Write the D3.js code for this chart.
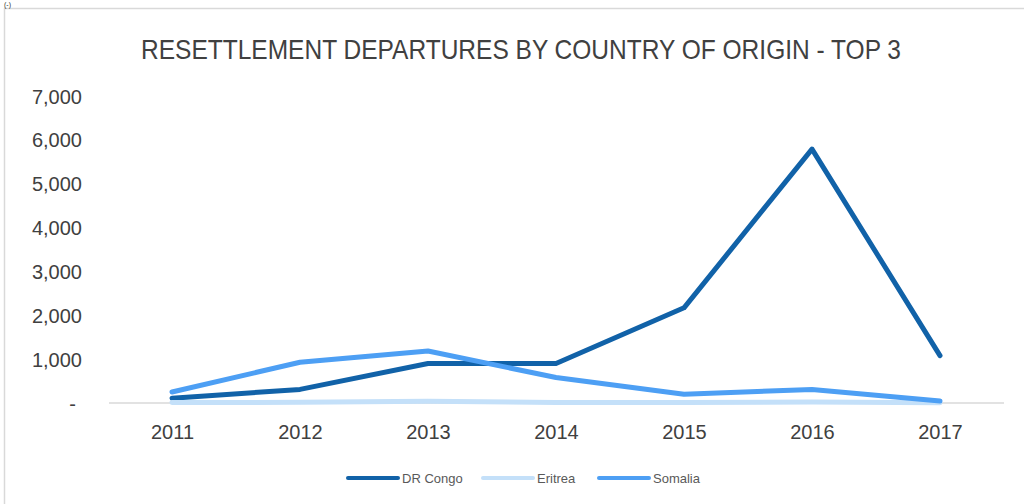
<!DOCTYPE html>
<html>
<head>
<meta charset="utf-8">
<script src="https://cdn.jsdelivr.net/npm/d3@7"></script>
<style>
  body { margin: 0; background: #fff; }
  svg { display: block; }
</style>
</head>
<body>
<script>
const w = 1024;
const h = 504;

const years = ["2011", "2012", "2013", "2014", "2015", "2016", "2017"];
const drCongo = [110, 310, 900, 900, 2170, 5790, 1080];
const eritrea = [10, 15, 40, 10, 10, 25, 5];
const somalia = [250, 930, 1185, 580, 200, 310, 45];
const yTicks = [0, 1000, 2000, 3000, 4000, 5000, 6000, 7000];

const series = [
  { name: "DR Congo", values: drCongo, color: "#1162a8" },
  { name: "Eritrea", values: eritrea, color: "#c4e0f9" },
  { name: "Somalia", values: somalia, color: "#4d9ff4" }
];

const svg = d3.select("body").append("svg").attr("width", w).attr("height", h);

// outer frame of the chart box
svg.append("rect")
  .attr("x", 4.5).attr("y", 8.5)
  .attr("width", w + 10).attr("height", h + 10)
  .attr("fill", "none").attr("stroke", "#d9d9d9").attr("stroke-width", 1.5);

// fragment of page text above the box
svg.append("text").attr("x", 4).attr("y", 7)
  .attr("font-family", "Liberation Sans").attr("font-size", 7).attr("fill", "#333")
  .text("(-)");

svg.append("text")
  .attr("x", 521).attr("y", 59)
  .attr("text-anchor", "middle")
  .attr("font-family", "'Liberation Sans Narrow', 'Liberation Sans', sans-serif")
  .attr("font-size", 28)
  .attr("fill", "#404040")
  .attr("textLength", 760)
  .attr("lengthAdjust", "spacingAndGlyphs")
  .text("RESETTLEMENT DEPARTURES BY COUNTRY OF ORIGIN - TOP 3");

const x = d3.scalePoint().domain(years).range([172, 940]);
const y = d3.scaleLinear().domain([0, 7000]).range([403, 96]);

const yAxis = d3.axisLeft(y).tickValues(yTicks).tickSize(0).tickPadding(0)
  .tickFormat(d => d === 0 ? "-" : d3.format(",")(d));

const gy = svg.append("g").attr("transform", "translate(82,0)").call(yAxis);
gy.select(".domain").remove();
gy.selectAll("text")
  .attr("font-family", "'Liberation Sans', sans-serif")
  .attr("font-size", 20)
  .attr("fill", "#404040")
  .attr("dy", "0.35em");
gy.selectAll("text").filter(d => d === 0).attr("dx", -6);

// baseline
svg.append("line")
  .attr("x1", 109).attr("x2", 1004)
  .attr("y1", y(0)).attr("y2", y(0))
  .attr("stroke", "#d9d9d9").attr("stroke-width", 1.5);

const xAxis = d3.axisBottom(x).tickSize(0).tickPadding(0);
const gx = svg.append("g").attr("transform", "translate(0,432)").call(xAxis);
gx.select(".domain").remove();
gx.selectAll("text")
  .attr("font-family", "'Liberation Sans', sans-serif")
  .attr("font-size", 20)
  .attr("fill", "#404040")
  .attr("dy", "0.35em");

const line = d3.line()
  .x((d, i) => x(years[i]))
  .y(d => y(d));

svg.selectAll("path.series")
  .data(series)
  .enter()
  .append("path")
  .attr("class", "series")
  .attr("d", d => line(d.values))
  .attr("fill", "none")
  .attr("stroke", d => d.color)
  .attr("stroke-width", 5)
  .attr("stroke-linecap", "round")
  .attr("stroke-linejoin", "round");

// legend
const legendX = [348, 483, 599];
const legend = svg.selectAll("g.legend")
  .data(series)
  .enter()
  .append("g")
  .attr("class", "legend")
  .attr("transform", (d, i) => `translate(${legendX[i]},478)`);

legend.append("line")
  .attr("x1", 0).attr("x2", 50)
  .attr("stroke", d => d.color)
  .attr("stroke-width", 4)
  .attr("stroke-linecap", "round");

legend.append("text")
  .attr("x", 54).attr("dy", "0.35em")
  .attr("font-family", "'Liberation Sans Narrow', 'Liberation Sans', sans-serif")
  .attr("font-size", 13)
  .attr("fill", "#595959")
  .text(d => d.name);
</script>
</body>
</html>
